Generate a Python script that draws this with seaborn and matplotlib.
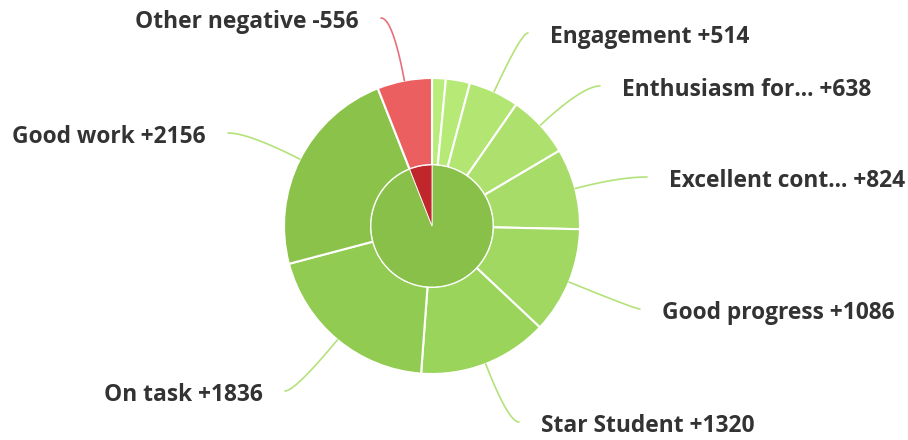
import numpy as np
import matplotlib
matplotlib.use("Agg")
import matplotlib.pyplot as plt
import seaborn as sns

# %% data (clockwise from 12 o'clock)
labels = ["", "", "Engagement", "Enthusiasm for...", "Excellent cont...",
          "Good progress", "Star Student", "On task", "Good work", "Other negative"]
values = [140, 245, 514, 638, 824, 1086, 1320, 1836, 2156, 556]
signs = ["+", "+", "+", "+", "+", "+", "+", "+", "+", "-"]
outer_colors = ["#b9ec7b", "#b6e976", "#b2e572", "#aee06d", "#a8dc68",
                "#a1d862", "#9ad45a", "#92cb52", "#8bc34a", "#ec5f60"]

inner_labels = ["Positive", "Negative"]
inner_values = [sum(v for v, s in zip(values, signs) if s == "+"),
                sum(v for v, s in zip(values, signs) if s == "-")]
inner_colors = ["#88c049", "#c0272d"]

# %% layout (pixels, origin top-left)
W, H = 908, 440
cx, cy = 432, 226
R_out, R_in = 148, 61
# label anchor: (x, y, ha)
label_pos = [None, None,
             (550, 37, "left"), (622, 90, "left"), (669, 181, "left"),
             (662, 313, "left"), (541, 426, "left"), (263, 395, "right"),
             (206, 137, "right"), (359, 22, "right")]

sns.set_theme(style="white")
plt.rcParams["font.family"] = ["Open Sans", "DejaVu Sans"]

fig = plt.figure(figsize=(W / 100, H / 100), dpi=100)
ax = fig.add_axes([0, 0, 1, 1])

def Y(py):
    return H - py

wedges, _ = ax.pie(values, colors=outer_colors, radius=R_out, center=(cx, Y(cy)),
                   startangle=90, counterclock=False,
                   wedgeprops=dict(width=R_out - R_in, edgecolor="white", linewidth=1.5))
ax.pie(inner_values, colors=inner_colors, radius=R_in, center=(cx, Y(cy)),
       startangle=90, counterclock=False,
       wedgeprops=dict(edgecolor="white", linewidth=0.6))

# connectors + labels
for w, lab, val, sg, pos in zip(wedges, labels, values, signs, label_pos):
    if pos is None:
        continue
    tx, ty, ha = pos
    mid = np.deg2rad((w.theta1 + w.theta2) / 2)
    dx, dy = np.cos(mid), -np.sin(mid)  # screen direction
    p0 = np.array([cx + R_out * dx, cy + R_out * dy])
    p2 = np.array([tx - 22 if ha == "left" else tx + 22, ty - 4])
    t = (p2[1] - p0[1]) / dy if abs(dy) > 1e-3 else 40
    t = np.clip(t, 10, 120)
    p1 = p0 + t * np.array([dx, dy])
    s = np.linspace(0, 1, 40)[:, None]
    pts = (1 - s) ** 2 * p0 + 2 * (1 - s) * s * p1 + s ** 2 * p2
    lc = "#e8707a" if sg == "-" else "#b4e27a"
    ax.plot(pts[:, 0], Y(pts[:, 1]), color=lc, lw=1.2, solid_capstyle="round")
    ax.text(tx, Y(ty), f"{lab} {sg}{val}", ha=ha, va="center",
            fontsize=16.4, fontweight="bold", color="#333333")

ax.set_xlim(0, W)
ax.set_ylim(0, H)
ax.set_aspect("equal")
ax.set_axis_off()

plt.savefig("out.png", dpi=100)
